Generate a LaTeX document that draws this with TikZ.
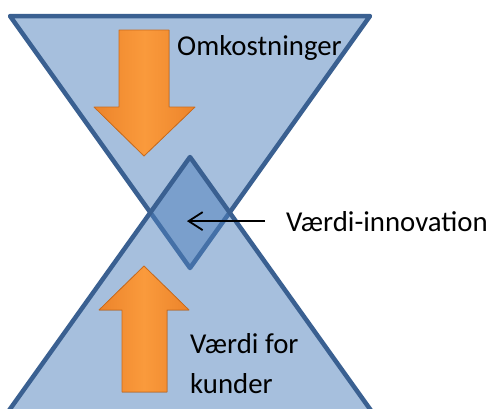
\documentclass[tikz,border=0pt]{standalone}
\usepackage{fontspec}
\setmainfont{Carlito}
\usetikzlibrary{arrows.meta}

\definecolor{accent}{HTML}{4F81BD}
\definecolor{edge}{HTML}{3A6091}
\definecolor{arrowlight}{HTML}{FA9A3C}
\definecolor{arrowdark}{HTML}{EC842B}
\definecolor{arrowline}{HTML}{CC6C1C}

\tikzset{
    funnel/.style={fill=accent, fill opacity=0.5, draw=edge, draw opacity=1,
        line width=4.5pt, line join=round},
    bigarrow/.style={left color=arrowdark, right color=arrowdark,
        middle color=arrowlight, draw=arrowline, line width=0.8pt, line join=round},
    lbl/.style={font=\fontsize{28.8}{40}\selectfont, inner sep=0pt, align=left},
    pointer/.style={line width=1.8pt, -{Straight Barb[length=14pt, width=18pt]}}
}

\begin{document}
\begin{tikzpicture}[x=1pt, y=-1pt]
    \clip (0,0) rectangle (496,408);
    \fill[white] (0,0) rectangle (496,408);

    % the two triangles, their overlap gives the diamond
    \draw[funnel] (10,16) -- (370,16) -- (190,268) -- cycle;
    \draw[funnel] (190,157) -- (373.5,414) -- (6.5,414) -- cycle;

    % costs go down, value goes up
    \filldraw[bigarrow] (119,30) -- (169,30) -- (169,107) -- (195,107)
        -- (144,156) -- (94,107) -- (119,107) -- cycle;
    \filldraw[bigarrow] (122,392) -- (167,392) -- (167,310) -- (189,310)
        -- (144,266) -- (99,310) -- (122,310) -- cycle;

    \node[lbl, anchor=base west] (cost) at (177,55) {Omkostninger};
    \node[lbl, anchor=base west] (value) at (190,393) {Værdi for\\kunder};
    \node[lbl, anchor=base west] (vi) at (286,231) {Værdi-innovation};

    \coordinate (vitip) at (187,220);
    \draw[pointer] ([xshift=-21pt]vi.west) -- (vi.west -| vitip);
\end{tikzpicture}
\end{document}
